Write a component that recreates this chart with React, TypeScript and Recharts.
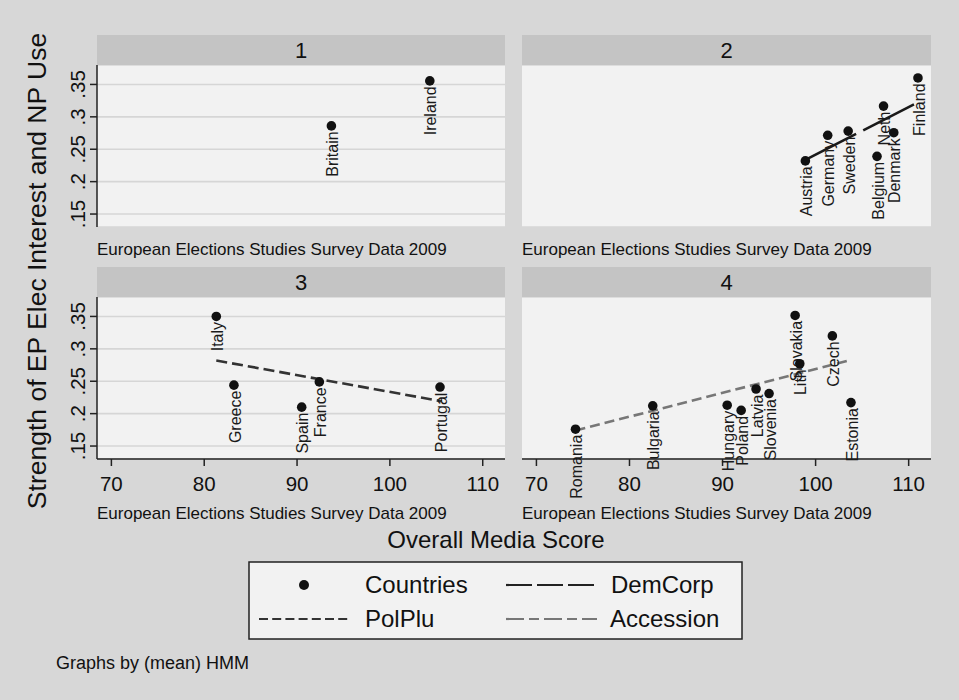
import React from "react";
import { ComposedChart, Scatter, Line, XAxis, YAxis, CartesianGrid } from "recharts";

// ---------- data ----------
const panel1Countries = ["Britain", "Ireland"];
const panel1Media = [93.7, 104.3];
const panel1Interest = [0.286, 0.3555];

const panel2Countries = ["Austria", "Germany", "Sweden", "Belgium", "Neth", "Denmark", "Finland"];
const panel2Media = [98.9, 101.3, 103.5, 106.6, 107.3, 108.4, 111.0];
const panel2Interest = [0.232, 0.2715, 0.278, 0.239, 0.3166, 0.2755, 0.36];

const panel3Countries = ["Italy", "Greece", "Spain", "France", "Portugal"];
const panel3Media = [81.3, 83.2, 90.5, 92.4, 105.4];
const panel3Interest = [0.35, 0.244, 0.21, 0.249, 0.241];

const panel4Countries = ["Romania", "Bulgaria", "Hungary", "Poland", "Latvia", "Slovenia", "Slovakia", "Lith", "Czech", "Estonia"];
const panel4Media = [74.2, 82.5, 90.5, 92.0, 93.6, 95.0, 97.8, 98.3, 101.8, 103.8];
const panel4Interest = [0.176, 0.212, 0.213, 0.205, 0.238, 0.231, 0.3515, 0.277, 0.32, 0.217];

// fitted lines (endpoints)
const demCorpMedia = [98.9, 110.8];
const demCorpFit = [0.2335, 0.321];
const polPluMedia = [81.3, 105.6];
const polPluFit = [0.282, 0.219];
const accessionMedia = [74.2, 103.6];
const accessionFit = [0.174, 0.282];

const xTicks = [70, 80, 90, 100, 110];
const yTicks = [0.15, 0.2, 0.25, 0.3, 0.35];
const panelTitles = ["1", "2", "3", "4"];
const subtitle = "European Elections Studies Survey Data 2009";
const xTitle = "Overall Media Score";
const yTitle = "Strength of EP Elec Interest and NP Use";
const legendLabels = ["Countries", "DemCorp", "PolPlu", "Accession"];
const note = "Graphs by (mean) HMM";

// ---------- helpers ----------
const FONT = "'Liberation Sans', Arial, Helvetica, sans-serif";
const X_DOMAIN: [number, number] = [68.45, 112.4];
const Y_DOMAIN: [number, number] = [0.13, 0.38];

const toPoints = (names: string[], xs: number[], ys: number[]) =>
  names.map((n, i) => ({ name: n, x: xs[i], y: ys[i] }));
const toLine = (xs: number[], ys: number[]) => xs.map((x, i) => ({ x, y: ys[i] }));

const PointShape = (props: any) => {
  const { cx, cy, payload } = props;
  if (cx == null || cy == null) return null;
  return (
    <g>
      <circle cx={cx} cy={cy} r={4.8} fill="#111" />
      <text
        transform={`translate(${cx + 1},${cy + 5.5}) rotate(-90)`}
        textAnchor="end"
        dy="0.35em"
        fontSize={16}
        fontFamily={FONT}
        fill="#1a1a1a"
      >
        {payload.name}
      </text>
    </g>
  );
};

const YTick = (props: any) => {
  const { x, y, payload } = props;
  const label = String(payload.value).replace(/^0/, "");
  return (
    <text
      transform={`translate(${x - 10},${y}) rotate(-90)`}
      textAnchor="middle"
      dy="0.35em"
      fontSize={20.5}
      fontFamily={FONT}
      fill="#111"
    >
      {label}
    </text>
  );
};

const XTick = (props: any) => {
  const { x, y, payload } = props;
  return (
    <text x={x} y={y + 16} textAnchor="middle" dy="0.35em" fontSize={20.5} fontFamily={FONT} fill="#111">
      {payload.value}
    </text>
  );
};

type PanelProps = {
  left: number;
  top: number;
  width: number;
  height: number;
  showY: boolean;
  showX: boolean;
  points: { name: string; x: number; y: number }[];
  line?: { data: { x: number; y: number }[]; color: string; dash: string };
};

const Panel = ({ left, top, width, height, showY, showX, points, line }: PanelProps) => (
  <div style={{ position: "absolute", left, top, width, height }}>
    <ComposedChart width={width} height={height} margin={{ top: 0, right: 0, bottom: 0, left: 0 }} style={{ overflow: "visible" }}>
      <CartesianGrid vertical={false} fill="#f2f2f2" stroke="#d6d6d6" strokeWidth={1.6} />
      <XAxis
        type="number"
        dataKey="x"
        domain={X_DOMAIN}
        ticks={xTicks}
        hide={!showX}
        height={showX ? 48 : 0}
        tick={<XTick />}
        tickSize={7}
        tickLine={{ stroke: "#222", strokeWidth: 1.5 }}
        axisLine={{ stroke: "#222", strokeWidth: 1.5 }}
      />
      <YAxis
        type="number"
        dataKey="y"
        domain={Y_DOMAIN}
        ticks={yTicks}
        width={showY ? 97 : 0}
        tick={showY ? <YTick /> : false}
        tickSize={7}
        tickLine={showY ? { stroke: "#222", strokeWidth: 1.5 } : false}
        axisLine={showY ? { stroke: "#222", strokeWidth: 1.5 } : false}
      />
      {line && (
        <Line
          data={line.data}
          dataKey="y"
          stroke={line.color}
          strokeWidth={2.6}
          strokeDasharray={line.dash}
          dot={false}
          activeDot={false}
          isAnimationActive={false}
          legendType="none"
        />
      )}
      <Scatter data={points} dataKey="y" shape={PointShape} isAnimationActive={false} />
    </ComposedChart>
  </div>
);

export default function App() {
  const headerFill = "#c4c4c4";
  return (
    <div
      style={{
        position: "absolute",
        left: 0,
        top: 0,
        width: 959,
        height: 700,
        background: "#d7d7d7",
        overflow: "hidden",
        fontFamily: FONT,
      }}
    >
      <svg width={959} height={700} style={{ position: "absolute", left: 0, top: 0 }} fontFamily={FONT}>
        {/* panel headers */}
        <rect x={97} y={35} width={408} height={30} fill={headerFill} />
        <rect x={522} y={35} width={409} height={30} fill={headerFill} />
        <rect x={97} y={267} width={408} height={30} fill={headerFill} />
        <rect x={522} y={267} width={409} height={30} fill={headerFill} />
        <text x={301} y={50} dy="0.35em" textAnchor="middle" fontSize={22} fill="#111">{panelTitles[0]}</text>
        <text x={726.5} y={50} dy="0.35em" textAnchor="middle" fontSize={22} fill="#111">{panelTitles[1]}</text>
        <text x={301} y={282} dy="0.35em" textAnchor="middle" fontSize={22} fill="#111">{panelTitles[2]}</text>
        <text x={726.5} y={282} dy="0.35em" textAnchor="middle" fontSize={22} fill="#111">{panelTitles[3]}</text>

        {/* subtitles */}
        <text x={97} y={249} dy="0.35em" fontSize={17} fill="#111">{subtitle}</text>
        <text x={522} y={249} dy="0.35em" fontSize={17} fill="#111">{subtitle}</text>
        <text x={97} y={513} dy="0.35em" fontSize={17} fill="#111">{subtitle}</text>
        <text x={522} y={513} dy="0.35em" fontSize={17} fill="#111">{subtitle}</text>

        {/* axis titles */}
        <text transform="translate(37,271) rotate(-90)" textAnchor="middle" dy="0.35em" fontSize={26.5} fill="#111">{yTitle}</text>
        <text x={496} y={540} textAnchor="middle" dy="0.35em" fontSize={24} fill="#111">{xTitle}</text>

        {/* legend */}
        <rect x={249} y={562} width={493} height={77} fill="#f2f2f2" stroke="#222" strokeWidth={1.5} />
        <circle cx={304} cy={585} r={5} fill="#111" />
        <text x={365} y={585} dy="0.35em" fontSize={24} fill="#111">{legendLabels[0]}</text>
        <line x1={506} y1={585} x2={597} y2={585} stroke="#222" strokeWidth={2.2} strokeDasharray="26 5" />
        <text x={611} y={585} dy="0.35em" fontSize={24} fill="#111">{legendLabels[1]}</text>
        <line x1={259} y1={619} x2={350} y2={619} stroke="#333" strokeWidth={2.2} strokeDasharray="9 4.2" />
        <text x={365} y={619} dy="0.35em" fontSize={24} fill="#111">{legendLabels[2]}</text>
        <line x1={506} y1={619} x2={597} y2={619} stroke="#777" strokeWidth={2.2} strokeDasharray="18 5 10 5" />
        <text x={610} y={619} dy="0.35em" fontSize={24} fill="#111">{legendLabels[3]}</text>

        <text x={56} y={663} dy="0.35em" fontSize={18} fill="#111">{note}</text>
      </svg>

      <Panel left={0} top={65} width={505} height={162} showY showX={false}
        points={toPoints(panel1Countries, panel1Media, panel1Interest)} />
      <Panel left={522} top={65} width={409} height={162} showY={false} showX={false}
        points={toPoints(panel2Countries, panel2Media, panel2Interest)}
        line={{ data: toLine(demCorpMedia, demCorpFit), color: "#1a1a1a", dash: "57 8" }} />
      <Panel left={0} top={297} width={505} height={210} showY showX
        points={toPoints(panel3Countries, panel3Media, panel3Interest)}
        line={{ data: toLine(polPluMedia, polPluFit), color: "#333", dash: "11 5" }} />
      <Panel left={522} top={297} width={409} height={210} showY={false} showX
        points={toPoints(panel4Countries, panel4Media, panel4Interest)}
        line={{ data: toLine(accessionMedia, accessionFit), color: "#777", dash: "10 5" }} />
    </div>
  );
}
